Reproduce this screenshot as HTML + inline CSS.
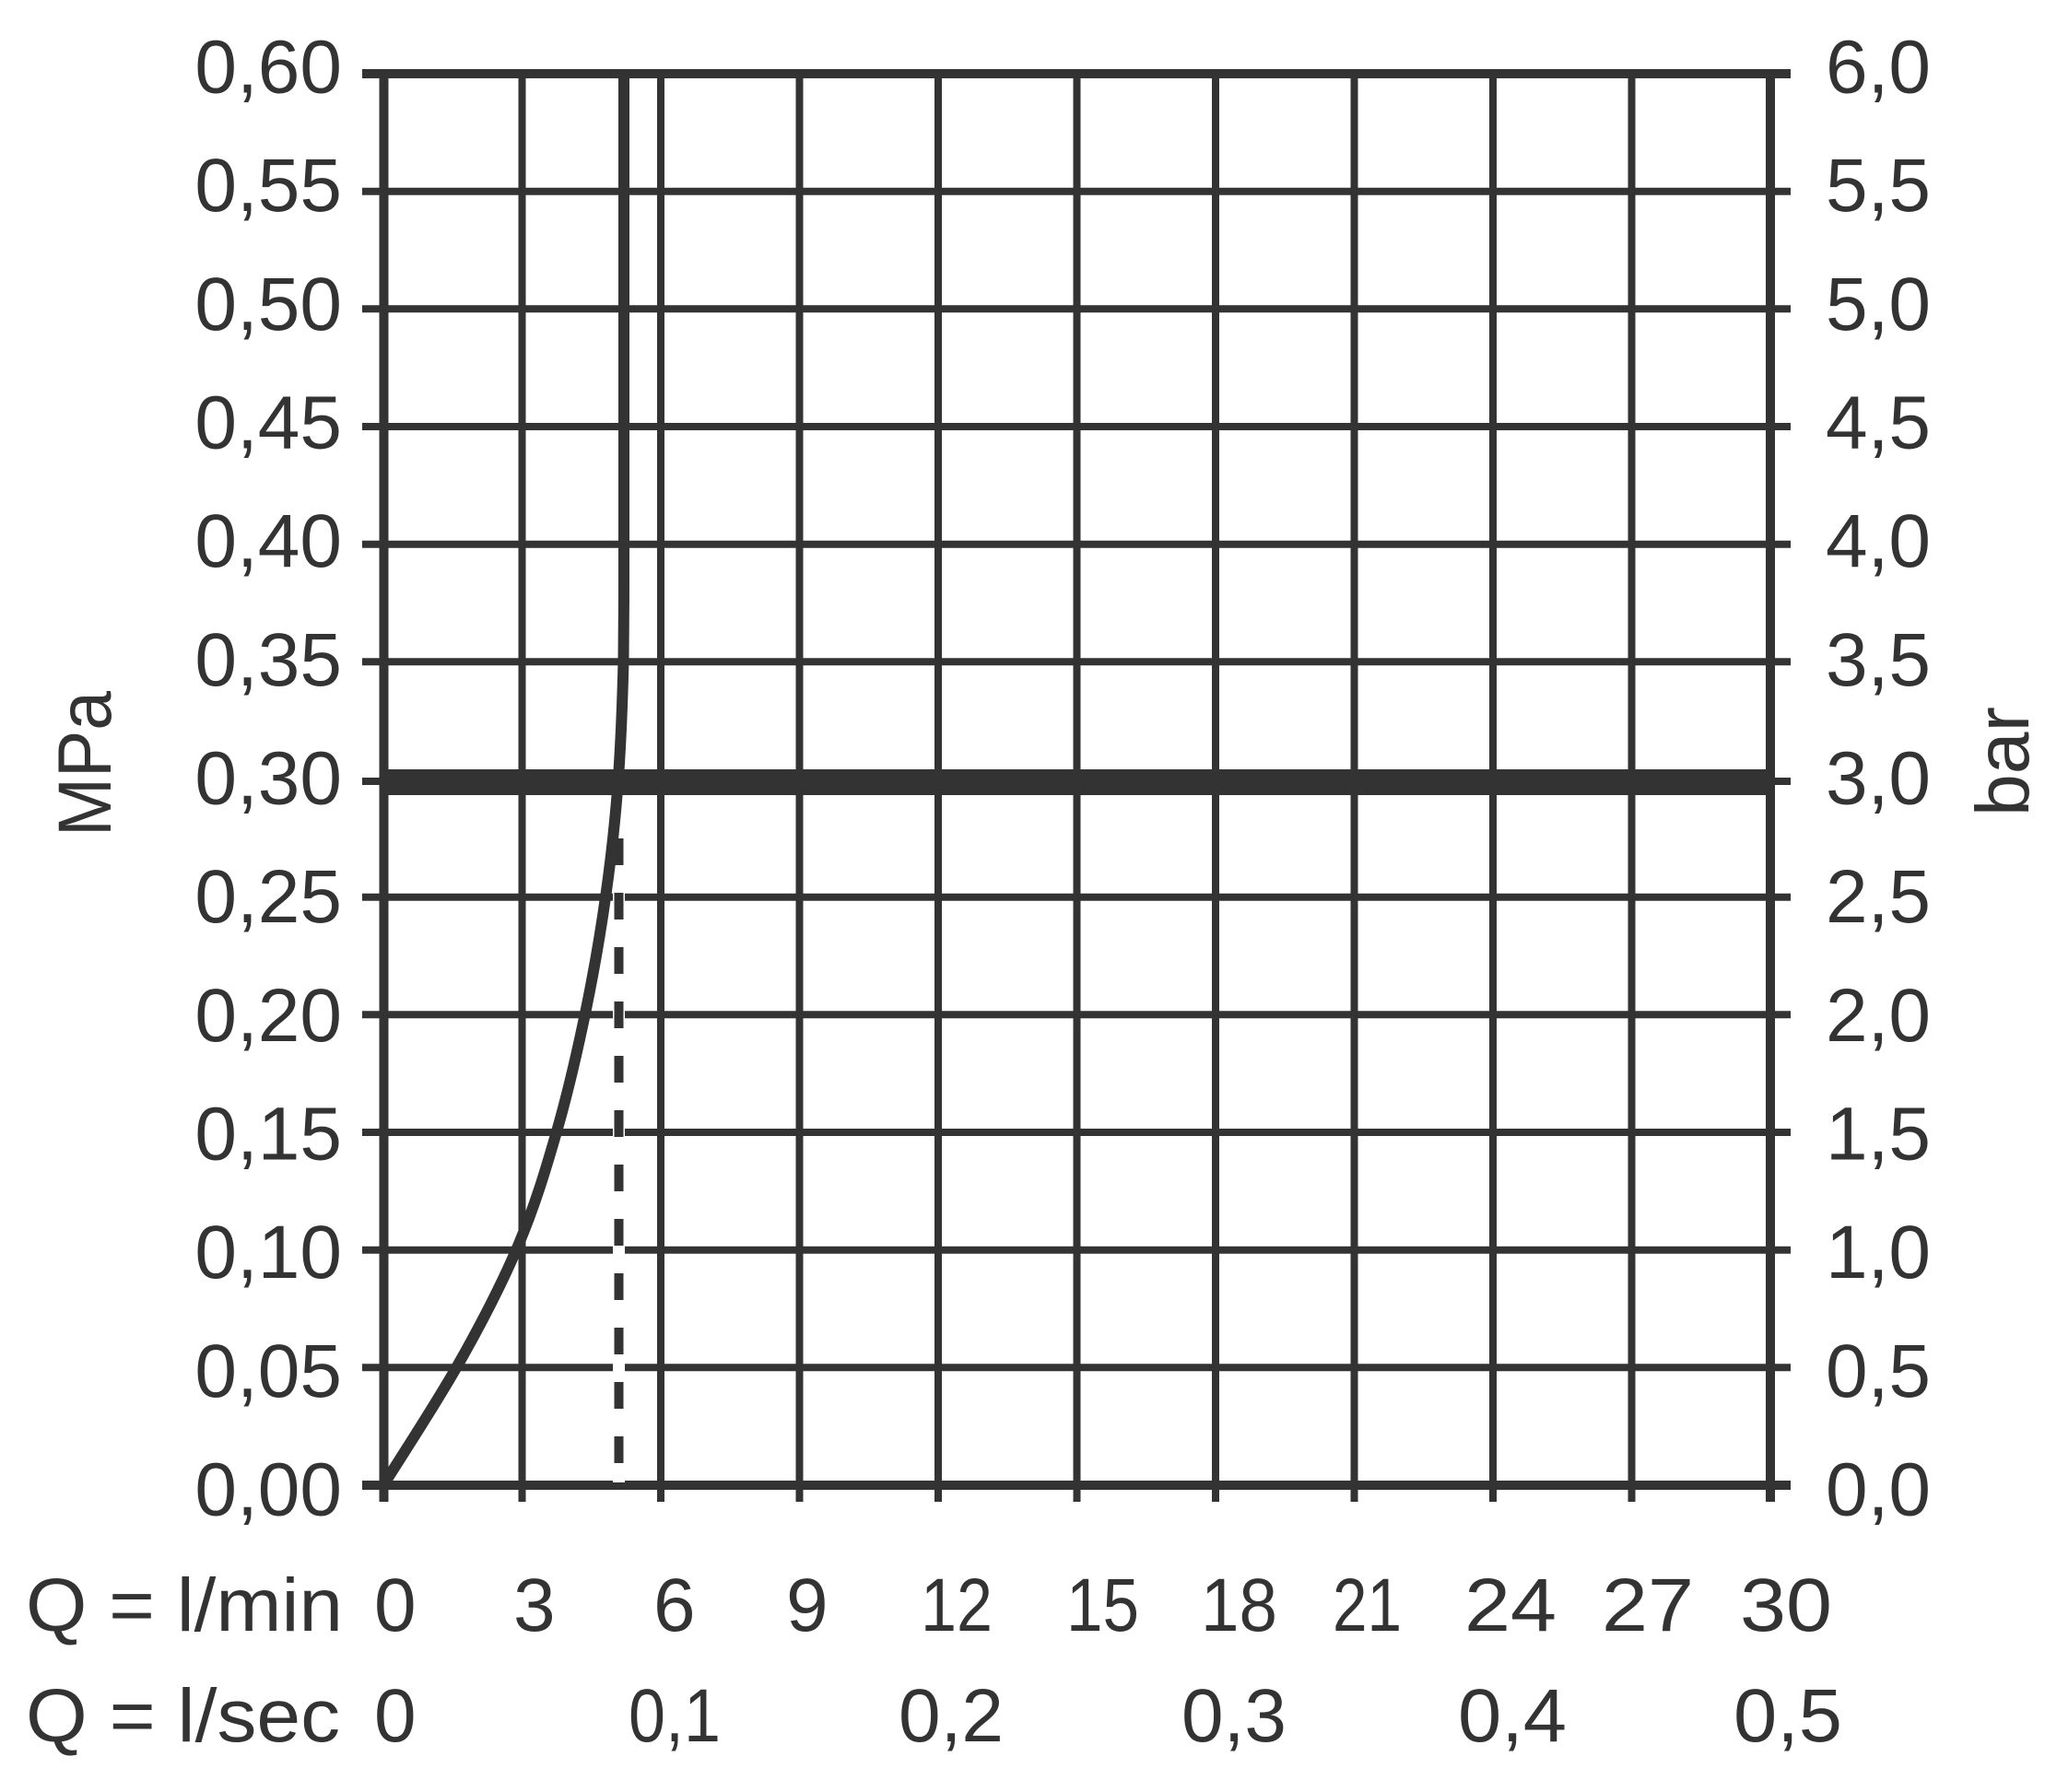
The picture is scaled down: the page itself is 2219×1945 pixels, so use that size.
<!DOCTYPE html>
<html>
<head>
<meta charset="utf-8">
<style>
  html, body { margin: 0; padding: 0; background: #ffffff; }
  body { width: 2219px; height: 1945px; overflow: hidden; }
  svg { display: block; }
  text { font-family: "Liberation Sans", "DejaVu Sans", sans-serif; font-size: 82px; fill: #333333; }
</style>
</head>
<body>
<svg width="2219" height="1945" viewBox="0 0 2219 1945" xmlns="http://www.w3.org/2000/svg">
  <rect x="0" y="0" width="2219" height="1945" fill="#ffffff"/>

  <!-- horizontal gridlines with ticks on both sides -->
  <g stroke="#333333" stroke-width="8" fill="none">
    <line x1="393" y1="207.7" x2="1943" y2="207.7"/>
    <line x1="393" y1="335.3" x2="1943" y2="335.3"/>
    <line x1="393" y1="463" x2="1943" y2="463"/>
    <line x1="393" y1="590.7" x2="1943" y2="590.7"/>
    <line x1="393" y1="718.3" x2="1943" y2="718.3"/>
    <line x1="393" y1="848" x2="1943" y2="848"/>
    <line x1="393" y1="973.7" x2="1943" y2="973.7"/>
    <line x1="393" y1="1101.3" x2="1943" y2="1101.3"/>
    <line x1="393" y1="1229" x2="1943" y2="1229"/>
    <line x1="393" y1="1356.7" x2="1943" y2="1356.7"/>
    <line x1="393" y1="1484.3" x2="1943" y2="1484.3"/>
  </g>

  <!-- vertical gridlines with ticks below -->
  <g stroke="#333333" stroke-width="8" fill="none">
    <line x1="566.5" y1="76" x2="566.5" y2="1630"/>
    <line x1="717" y1="76" x2="717" y2="1630"/>
    <line x1="867.5" y1="76" x2="867.5" y2="1630"/>
    <line x1="1018" y1="76" x2="1018" y2="1630"/>
    <line x1="1168.5" y1="76" x2="1168.5" y2="1630"/>
    <line x1="1319" y1="76" x2="1319" y2="1630"/>
    <line x1="1469.5" y1="76" x2="1469.5" y2="1630"/>
    <line x1="1620" y1="76" x2="1620" y2="1630"/>
    <line x1="1770.5" y1="76" x2="1770.5" y2="1630"/>
  </g>

  <!-- axes frame -->
  <g stroke="#333333" stroke-width="10" fill="none">
    <line x1="416.5" y1="75" x2="416.5" y2="1630"/>
    <line x1="1921" y1="75" x2="1921" y2="1630"/>
    <line x1="393" y1="80" x2="1943" y2="80"/>
    <line x1="393" y1="1612" x2="1943" y2="1612"/>
  </g>

  <!-- thick 0.30 MPa line -->
  <line x1="416" y1="849" x2="1921" y2="849" stroke="#333333" stroke-width="28"/>

  <!-- dashed vertical line: white underlay + dark dashes -->
  <line x1="671.5" y1="863" x2="671.5" y2="1609" stroke="#ffffff" stroke-width="13"/>
  <line x1="671.5" y1="910" x2="671.5" y2="1592" stroke="#333333" stroke-width="10" stroke-dasharray="29 30"/>

  <!-- curve -->
  <path d="M416,1612 C429.5,1590 472.3,1525 496.7,1481.7 C521.1,1438.8 544.4,1393.9 562.3,1351.7 C580.2,1309.5 591.9,1270.3 604,1228.3 C616.1,1186.3 626.1,1142.7 635,1100 C643.9,1057.3 651.4,1014 657.3,972 C663.3,930 667.6,890.5 670.7,848 C673.8,805.5 675.5,758 676.5,717 C677,676 677,640 677,600 L677,78"
        fill="none" stroke="#333333" stroke-width="12"/>

  <!-- left axis labels (MPa) -->
  <g text-anchor="end">
    <text x="371" y="100.5">0,60</text>
    <text x="371" y="229.2">0,55</text>
    <text x="371" y="357.8">0,50</text>
    <text x="371" y="486.5">0,45</text>
    <text x="371" y="615.2">0,40</text>
    <text x="371" y="743.8">0,35</text>
    <text x="371" y="872.5">0,30</text>
    <text x="371" y="1001.2">0,25</text>
    <text x="371" y="1129.8">0,20</text>
    <text x="371" y="1258.5">0,15</text>
    <text x="371" y="1387.2">0,10</text>
    <text x="371" y="1515.8">0,05</text>
    <text x="371" y="1644.5">0,00</text>
  </g>

  <!-- right axis labels (bar) -->
  <g text-anchor="start">
    <text x="1981" y="100.5">6,0</text>
    <text x="1981" y="229.2">5,5</text>
    <text x="1981" y="357.8">5,0</text>
    <text x="1981" y="486.5">4,5</text>
    <text x="1981" y="615.2">4,0</text>
    <text x="1981" y="743.8">3,5</text>
    <text x="1981" y="872.5">3,0</text>
    <text x="1981" y="1001.2">2,5</text>
    <text x="1981" y="1129.8">2,0</text>
    <text x="1981" y="1258.5">1,5</text>
    <text x="1981" y="1387.2">1,0</text>
    <text x="1981" y="1515.8">0,5</text>
    <text x="1981" y="1644.5">0,0</text>
  </g>

  <!-- axis titles -->
  <text transform="translate(120,829) rotate(-90)" text-anchor="middle" textLength="158" lengthAdjust="spacingAndGlyphs">MPa</text>
  <text transform="translate(2201,826.5) rotate(-90)" text-anchor="middle" textLength="119" lengthAdjust="spacingAndGlyphs">bar</text>

  <!-- bottom row 1: l/min -->
  <text x="28" y="1770" textLength="344" lengthAdjust="spacingAndGlyphs">Q = l/min</text>
  <text x="406" y="1770">0</text>
  <text x="557" y="1770">3</text>
  <text x="709" y="1770">6</text>
  <text x="853" y="1770">9</text>
  <text x="999" y="1770" textLength="78" lengthAdjust="spacingAndGlyphs">12</text>
  <text x="1157" y="1770" textLength="79" lengthAdjust="spacingAndGlyphs">15</text>
  <text x="1303" y="1770" textLength="83" lengthAdjust="spacingAndGlyphs">18</text>
  <text x="1446" y="1770" textLength="75" lengthAdjust="spacingAndGlyphs">21</text>
  <text x="1589" y="1770" textLength="100" lengthAdjust="spacingAndGlyphs">24</text>
  <text x="1738" y="1770" textLength="100" lengthAdjust="spacingAndGlyphs">27</text>
  <text x="1888" y="1770" textLength="100" lengthAdjust="spacingAndGlyphs">30</text>

  <!-- bottom row 2: l/sec -->
  <text x="28" y="1890" textLength="341" lengthAdjust="spacingAndGlyphs">Q = l/sec</text>
  <text x="406" y="1890">0</text>
  <text x="682" y="1890" textLength="100" lengthAdjust="spacingAndGlyphs">0,1</text>
  <text x="975" y="1890" textLength="114" lengthAdjust="spacingAndGlyphs">0,2</text>
  <text x="1282" y="1890" textLength="114" lengthAdjust="spacingAndGlyphs">0,3</text>
  <text x="1582" y="1890" textLength="118" lengthAdjust="spacingAndGlyphs">0,4</text>
  <text x="1881" y="1890" textLength="118" lengthAdjust="spacingAndGlyphs">0,5</text>
</svg>
</body>
</html>
